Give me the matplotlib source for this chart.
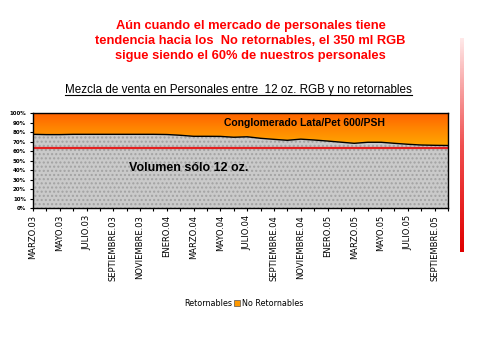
import numpy as np
import matplotlib.pyplot as plt
from matplotlib.patches import Polygon, Patch
from matplotlib.colors import LinearSegmentedColormap

# -----------------------------
# datos: participación de retornables (12 oz. RGB) por mes
# -----------------------------
meses = ['MARZO.03', 'ABRIL.03', 'MAYO.03', 'JUNIO.03', 'JULIO.03', 'AGOSTO.03',
         'SEPTIEMBRE.03', 'OCTUBRE.03', 'NOVIEMBRE.03', 'DICIEMBRE.03', 'ENERO.04',
         'FEBRERO.04', 'MARZO.04', 'ABRIL.04', 'MAYO.04', 'JUNIO.04', 'JULIO.04',
         'AGOSTO.04', 'SEPTIEMBRE.04', 'OCTUBRE.04', 'NOVIEMBRE.04', 'DICIEMBRE.04',
         'ENERO.05', 'FEBRERO.05', 'MARZO.05', 'ABRIL.05', 'MAYO.05', 'JUNIO.05',
         'JULIO.05', 'AGOSTO.05', 'SEPTIEMBRE.05', 'OCTUBRE.05']
retornables = [77.8, 77.5, 77.5, 77.8, 77.8, 77.8, 77.8, 77.8, 77.8, 77.8, 77.6,
               76.8, 75.7, 75.7, 75.6, 74.7, 75.2, 73.6, 72.5, 71.5, 72.7, 71.8,
               70.7, 69.5, 68.3, 69.4, 69.4, 68.3, 67.3, 66.5, 66.2, 66.0]
referencia = 63.5  # linea roja

x = np.arange(len(meses))
ret = np.array(retornables) / 100.0

fig = plt.figure(figsize=(4.8, 3.6), dpi=100)
fig.patch.set_facecolor('white')

# titulos
fig.text(0.522, 1 - 20/360,
         'Aún cuando el mercado de personales tiene\n'
         'tendencia hacia los  No retornables, el 350 ml RGB\n'
         'sigue siendo el 60% de nuestros personales',
         ha='center', va='top', color='#ff0000', fontsize=9.3, fontweight='bold',
         family='Liberation Sans', linespacing=1.36)
sub = fig.text(0.497, 1 - 90/360,
               'Mezcla de venta en Personales entre  12 oz. RGB y no retornables',
               ha='center', va='center', color='black', fontsize=8.4,
               family='Liberation Sans')

ax = fig.add_axes([33/480, (360-208)/360, 415/480, 94.7/360])

# area gris (retornables)
ax.fill_between(x, 0, ret, facecolor='#cacaca', edgecolor='#a2a2a2',
                hatch='....', linewidth=0, zorder=1)

# area naranja con degradado (no retornables)
verts = list(zip(x, ret)) + [(x[-1], 1.0), (x[0], 1.0)]
poly = Polygon(verts, closed=True, facecolor='none', edgecolor='none',
               transform=ax.transData)
ax.add_patch(poly)
cmap = LinearSegmentedColormap.from_list('nar', ['#ffaa00', '#ff8800', '#ff6000'])
grad = np.linspace(0, 1, 200).reshape(-1, 1)
im = ax.imshow(grad, extent=[x[0], x[-1], 0.64, 1.0], origin='lower',
               aspect='auto', cmap=cmap, zorder=1)
im.set_clip_path(poly)

ax.plot(x, ret, color='black', lw=1, zorder=3)
ax.axhline(referencia / 100, color='#e42020', lw=1.6, zorder=4)

ax.set_xlim(x[0], x[-1])
ax.set_ylim(0, 1)
ax.set_yticks(np.arange(0, 1.01, 0.1))
ax.set_yticklabels([f'{int(round(v*100))}%' for v in np.arange(0, 1.01, 0.1)],
                   fontsize=4, fontweight='bold')
ax.set_xticks(x)
ax.set_xticklabels([m if i % 2 == 0 else '' for i, m in enumerate(meses)],
                   rotation=90, fontsize=6)
ax.tick_params(axis='both', length=2.5, width=0.8, pad=2.5, colors='black')
for s in ax.spines.values():
    s.set_color('black')
    s.set_linewidth(1)
    s.set_zorder(5)

ax.text(14.3, 0.90, 'Conglomerado Lata/Pet 600/PSH', fontsize=7.5,
        fontweight='bold', family='Liberation Sans', va='center', zorder=6)
ax.text(7.2, 0.42, 'Volumen sólo 12 oz.', fontsize=9,
        fontweight='bold', family='Liberation Sans', va='center', zorder=6)

# leyenda
handles = [Patch(facecolor='none', edgecolor='none'),
           Patch(facecolor='#ff9900', edgecolor='#555555', linewidth=0.5)]
fig.legend(handles, ['Retornables', 'No Retornables'], loc='center',
           bbox_to_anchor=(0.5, 1 - 303/360), ncol=2, frameon=False,
           fontsize=5.8, handlelength=0.7, handleheight=0.7,
           handletextpad=0.3, columnspacing=0.2)

# barra roja decorativa a la derecha
bar = fig.add_axes([460/480, (360-252)/360, 4/480, 214/360])
bcmap = LinearSegmentedColormap.from_list('rojo', ['#e00000', '#f05050', '#ffe8e8'])
bar.imshow(np.linspace(0, 1, 100).reshape(-1, 1), aspect='auto', cmap=bcmap,
           origin='lower')
bar.axis('off')

# subrayado del subtitulo
fig.canvas.draw()
bb = sub.get_window_extent().transformed(fig.transFigure.inverted())
fig.add_artist(plt.Line2D([bb.x0, bb.x1], [bb.y0 + 0.002, bb.y0 + 0.002],
                          color='black', lw=0.8, transform=fig.transFigure))

fig.savefig('out.png', dpi=100)
